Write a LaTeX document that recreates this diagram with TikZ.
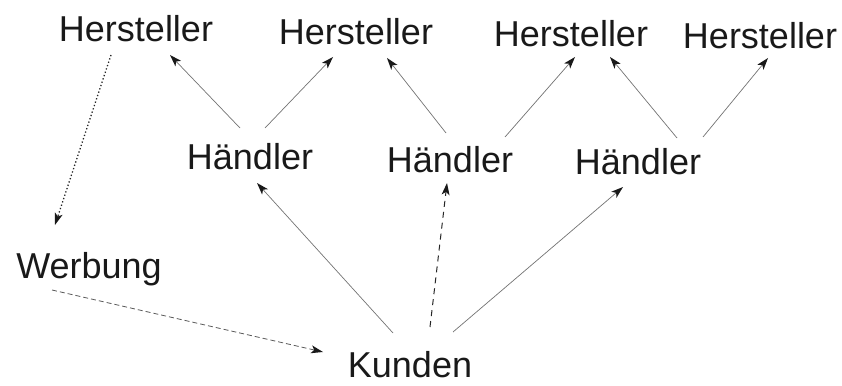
\documentclass[tikz,border=0pt]{standalone}
\usepackage{fontspec}
\setmainfont{Liberation Sans}
\usetikzlibrary{arrows.meta,calc}

\tikzset{
  lbl/.style={anchor=base, inner sep=0pt, font=\fontsize{36}{40}\selectfont, text=black!90},
  tip/.style={-{Stealth[length=12pt,width=8pt,inset=3pt,color=black!90,line width=0pt]}},
  link/.style={tip, draw=black!55, line width=0.7pt},
  dotlink/.style={tip, draw=black!85, line width=1.3pt, dash pattern=on 1.3pt off 2.2pt},
  dashlink/.style={tip, draw=black!85, line width=1pt, dash pattern=on 6pt off 5pt},
  thindash/.style={tip, draw=black!65, line width=0.8pt, dash pattern=on 5pt off 3pt}
}

\begin{document}
\begin{tikzpicture}[x=1pt,y=-1pt]
\useasboundingbox (0,0) rectangle (842,385);

% producers
\node[lbl] (h1) at (136,42) {Hersteller};
\node[lbl] (h2) at (356,45) {Hersteller};
\node[lbl] (h3) at (571,47) {Hersteller};
\node[lbl] (h4) at (760,49) {Hersteller};

% dealers
\node[lbl] (d1) at (250,169) {Händler};
\node[lbl] (d2) at (450,172) {Händler};
\node[lbl] (d3) at (638,174) {Händler};

% advertising and customers
\node[lbl] (w) at (89,278) {Werbung};
\node[lbl] (k) at (410,377) {Kunden};

% producer -> advertising
\draw[dotlink] ($(h1.base)+(-25,13)$) -- ($(w.base)+(-34,-53)$);

% dealers -> producers
\draw[link] ($(d1.base)+(-10,-41)$) -- ($(h1.base)+(34,13)$);
\draw[link] ($(d1.base)+(15,-41)$) -- ($(h2.base)+(-23,12)$);
\draw[link] ($(d2.base)+(-4,-39)$) -- ($(h2.base)+(31,13)$);
\draw[link] ($(d2.base)+(55,-35)$) -- ($(h3.base)+(4,10)$);
\draw[link] ($(d3.base)+(39,-36)$) -- ($(h3.base)+(39,10)$);
\draw[link] ($(d3.base)+(65,-37)$) -- ($(h4.base)+(8,9)$);

% customers -> dealers
\draw[link] ($(k.base)+(-17,-44)$) -- ($(d1.base)+(7,14)$);
\draw[dashlink] ($(k.base)+(20,-50)$) -- ($(d2.base)+(-3,11)$);
\draw[link] ($(k.base)+(43,-45)$) -- ($(d3.base)+(-15,13)$);

% advertising -> customers
\draw[thindash] ($(w.base)+(-37,12)$) -- ($(k.base)+(-87,-25)$);
\end{tikzpicture}
\end{document}
